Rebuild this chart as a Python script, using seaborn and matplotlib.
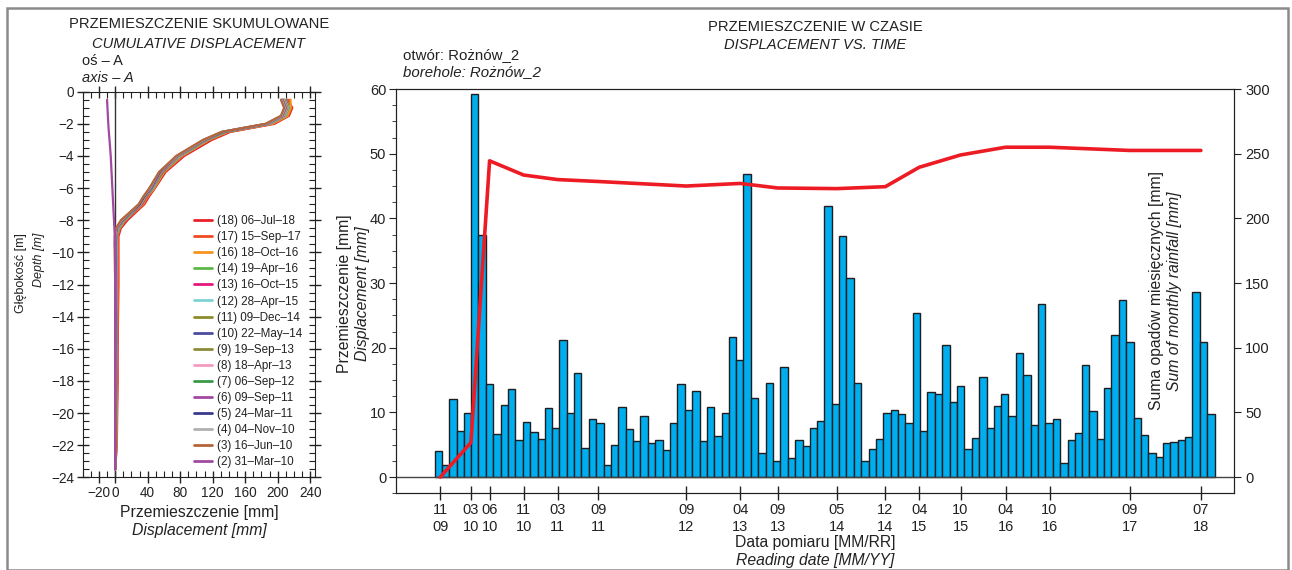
import numpy as np
import pandas as pd
import matplotlib
matplotlib.use("Agg")
import matplotlib.pyplot as plt
import matplotlib.dates as mdates
from matplotlib.patches import Rectangle
from matplotlib.ticker import MultipleLocator, FixedLocator, FuncFormatter
import seaborn as sns

## readings: date and displacement at the top of the borehole [mm]
reading_dates = ["2009-11-24", "2010-03-31", "2010-06-16", "2010-11-04", "2011-03-24",
                 "2011-09-09", "2012-09-06", "2013-04-18", "2013-09-19", "2014-05-22",
                 "2014-12-09", "2015-04-28", "2015-10-16", "2016-04-19", "2016-10-18",
                 "2017-09-15", "2018-07-06"]
displacement = [0.0, 5.35, 48.9, 46.7, 46.0, 45.7, 45.0, 45.4, 44.7, 44.6,
                44.9, 47.9, 49.8, 51.0, 51.0, 50.5, 50.5]

## monthly rainfall [mm], Nov 2009 .. Aug 2018
rain_first_month = "2009-11-01"
rainfall = [20.3, 9.0, 60.3, 36.0, 49.2, 295.9, 187.0, 72.3, 33.7, 56.1,
            68.5, 28.8, 42.7, 35.0, 29.6, 53.8, 38.1, 106.0, 49.4, 80.3,
            22.6, 45.3, 42.0, 9.0, 25.2, 54.5, 37.3, 28.3, 47.4, 26.3,
            28.6, 21.1, 42.2, 71.8, 52.0, 66.9, 27.8, 54.5, 31.7, 49.2,
            108.2, 90.6, 234.1, 61.0, 18.5, 72.9, 12.8, 85.0, 14.4, 28.6,
            24.2, 37.9, 43.3, 209.4, 56.6, 186.4, 153.7, 72.7, 12.8, 22.1,
            29.4, 49.4, 51.8, 48.7, 42.2, 127.2, 36.0, 65.7, 64.1, 102.2,
            58.4, 70.8, 22.1, 30.6, 77.3, 37.9, 54.9, 64.1, 47.6, 96.3,
            78.8, 40.2, 133.7, 42.2, 45.3, 11.3, 28.8, 34.0, 86.5, 51.0,
            29.4, 68.8, 110.2, 136.8, 104.5, 46.0, 32.4, 18.5, 15.9, 26.3,
            27.3, 28.8, 31.4, 142.9, 104.8, 48.7]

## cumulative displacement profiles, axis A
depth = [-0.5, -1.0, -1.5, -2.0, -2.5, -3.0, -4.0, -5.0, -6.0, -6.5, -7.0, -8.0,
         -8.5, -9.0, -9.5, -10.0, -12.0, -14.0, -16.0, -18.0, -20.0, -22.0, -23.5]
p18 = [212, 218, 214, 196, 142, 119, 85, 62, 49, 42, 36, 15, 7, 4, 4, 4, 4, 3.5, 3, 3, 2.5, 2, 0]
p17 = [214, 217, 213, 194, 140, 116, 83, 60, 48, 41, 35, 13, 6, 3, 3, 3, 3, 3, 2.5, 2.5, 2, 1.5, 0]
p16 = [216, 216, 212, 193, 138, 115, 82, 60, 48, 40, 34, 12, 5, 2.5, 2.5, 2.5, 2.5, 2.5, 2, 2, 2, 1.5, 0]
p14 = [211, 214, 210, 191, 137, 114, 81, 59, 47, 39, 33, 12, 5, 2, 2, 2, 2, 2, 2, 1.5, 1.5, 1, 0]
p13 = [210, 213, 209, 190, 136, 113, 80, 58, 46, 39, 33, 11, 4, 2, 1.5, 1.5, 2, 2, 2, 1.5, 1, 1, 0]
p12 = [209, 213, 209, 190, 136, 113, 80, 57, 46, 38, 32, 11, 4, 1.5, 1.5, 1.5, 1.5, 1.5, 1.5, 1, 1, 0.5, 0]
p11 = [208, 212, 208, 189, 135, 112, 79, 57, 45, 38, 32, 10, 3, 1, 1, 1, 1, 1, 1, 1, 0.5, 0.5, 0]
p10 = [207, 211, 207, 188, 134, 111, 78, 56, 45, 37, 31, 10, 3, 1, 0.5, 0.5, 0.5, 1, 1, 0.5, 0.5, 0.5, 0]
p9 = [208, 212, 207, 188, 134, 111, 78, 56, 44, 37, 31, 10, 3, 1, 0.5, 0.5, 0.5, 1, 0.5, 0.5, 0.5, 0.5, 0]
p8 = [207, 211, 207, 188, 133, 110, 78, 56, 44, 37, 31, 9, 3, 0.5, 0.5, 0.5, 0.5, 0.5, 0.5, 0.5, 0, 0, 0]
p7 = [206, 210, 206, 187, 133, 110, 77, 55, 44, 36, 30, 9, 2, 0.5, 0, 0, 0.5, 0.5, 0.5, 0, 0, 0, 0]
p6 = [206, 210, 206, 187, 132, 110, 77, 55, 44, 36, 30, 9, 2, 0, 0, 0, 0.5, 0.5, 0, 0, 0, 0, 0]
p5 = [205, 209, 205, 186, 132, 109, 76, 55, 43, 36, 30, 8, 2, 0, 0, 0, 0, 0.5, 0, 0, 0, 0, 0]
p4 = [205, 209, 205, 186, 131, 109, 76, 54, 43, 35, 29, 8, 1.5, 0, -0.5, -0.5, 0, 0, 0, 0, 0, 0, 0]
p3 = [204, 208, 204, 185, 131, 108, 75, 54, 42, 35, 29, 7, 1, -0.5, -0.5, -0.5, 0, 0, 0, 0, 0, 0, 0]
p2 = [-10, -9.5, -9, -8.5, -7.8, -7, -5.5, -4.5, -3.5, -3, -2.5, -1.5, -1, -0.5, -0.5, 0, 0, 0, 0, 0, 0, 0, 0]

profile_labels = ["(18) 06\u2013Jul\u201318", "(17) 15\u2013Sep\u201317", "(16) 18\u2013Oct\u201316",
                  "(14) 19\u2013Apr\u201316", "(13) 16\u2013Oct\u201315", "(12) 28\u2013Apr\u201315",
                  "(11) 09\u2013Dec\u201314", "(10) 22\u2013May\u201314", "(9) 19\u2013Sep\u201313",
                  "(8) 18\u2013Apr\u201313", "(7) 06\u2013Sep\u201312", "(6) 09\u2013Sep\u201311",
                  "(5) 24\u2013Mar\u201311", "(4) 04\u2013Nov\u201310", "(3) 16\u2013Jun\u201310",
                  "(2) 31\u2013Mar\u201310"]
profiles = [p18, p17, p16, p14, p13, p12, p11, p10, p9, p8, p7, p6, p5, p4, p3, p2]
profile_colors = ["#e8202a", "#f04a23", "#f7941d", "#5cb846", "#e6187e", "#7fd3d3",
                  "#8c8c2a", "#4b4ba0", "#8b8b3a", "#f49ac1", "#3a9a4a", "#a349a4",
                  "#3a3a8c", "#b0b0b0", "#b5653a", "#a04aa0"]

sns.set_style("ticks")
plt.rcParams["font.family"] = ["Liberation Sans Narrow", "Liberation Sans", "DejaVu Sans"]
plt.rcParams["text.color"] = "#222222"
plt.rcParams["axes.edgecolor"] = "#222222"
plt.rcParams["xtick.color"] = "#222222"
plt.rcParams["ytick.color"] = "#222222"

W, H = 1292, 570
fig = plt.figure(figsize=(W / 100, H / 100), dpi=100)


def px_axes(x0, y0, x1, y1):
    return fig.add_axes([x0 / W, 1 - y1 / H, (x1 - x0) / W, (y1 - y0) / H])


def px_text(x, y, s, **kw):
    fig.text(x / W, 1 - y / H, s, **kw)


## left panel: cumulative displacement
axl = px_axes(82.7, 91.7, 315, 477.3)
prof_df = pd.concat([pd.DataFrame({"depth": depth, "disp": vals, "reading": lab})
                     for lab, vals in zip(profile_labels, profiles)], ignore_index=True)
axl.axvline(0, color="#333333", lw=1, zorder=1)
sns.lineplot(data=prof_df, x="disp", y="depth", hue="reading", hue_order=profile_labels,
             palette=profile_colors, sort=False, estimator=None, lw=1.6, ax=axl)
axl.set_xlim(-40, 246)
axl.set_ylim(-24, 0)
axl.xaxis.set_major_locator(FixedLocator([-20, 0, 40, 80, 120, 160, 200, 240]))
axl.xaxis.set_minor_locator(MultipleLocator(10))
axl.yaxis.set_major_locator(MultipleLocator(2))
axl.yaxis.set_minor_locator(MultipleLocator(0.5))
minus = FuncFormatter(lambda v, p: f"{v:g}".replace("-", "\u2212"))
axl.xaxis.set_major_formatter(minus)
axl.yaxis.set_major_formatter(minus)
axl.tick_params(which="both", top=True, right=True, labelsize=9.8, pad=2)
axl.tick_params(which="major", direction="inout", length=8, width=1)
axl.tick_params(which="minor", direction="in", length=4, width=0.8)
axl.set_xlabel("")
axl.set_ylabel("")
leg = axl.legend(loc="upper left", bbox_to_anchor=(0.48, 0.68), frameon=False,
                 fontsize=8.4, handlelength=1.5, handletextpad=0.45, labelspacing=0.35,
                 borderpad=0, borderaxespad=0)
for line in leg.get_lines():
    line.set_linewidth(2)

## right panel: displacement vs time + monthly rainfall
axr = px_axes(396, 89, 1234, 493.3)
axr2 = axr.twinx()

months = pd.date_range(rain_first_month, periods=len(rainfall), freq="MS")
month_ends = months + pd.offsets.MonthBegin(1)
axr2.bar(mdates.date2num(months), rainfall, width=(month_ends - months).days,
         align="edge", color="#00aeef", edgecolor="#1e1e1e", lw=1)

rd = pd.to_datetime(reading_dates)
axr.axhline(0, color="#444444", lw=1)
sns.lineplot(x=mdates.date2num(rd), y=displacement, color="#ed1c24", lw=2.6, ax=axr)
axr.set_zorder(axr2.get_zorder() + 1)
axr.patch.set_visible(False)

axr.set_xlim(mdates.date2num(pd.Timestamp("2009-05-25")), mdates.date2num(pd.Timestamp("2018-11-20")))
axr.set_ylim(-2.5, 60)
axr2.set_ylim(-12.5, 300)
axr.yaxis.set_major_locator(MultipleLocator(10))
axr.yaxis.set_minor_locator(MultipleLocator(2.5))
axr2.yaxis.set_major_locator(MultipleLocator(50))
axr.xaxis.set_major_locator(FixedLocator(mdates.date2num(rd)))
axr.xaxis.set_major_formatter(FuncFormatter(lambda v, p: mdates.num2date(v).strftime("%m\n%y")))
axr.tick_params(axis="x", direction="inout", length=10, width=1, labelsize=10.5, pad=2)
axr.tick_params(axis="y", which="major", direction="out", length=5, labelsize=10.5, pad=2)
axr.tick_params(axis="y", which="minor", direction="out", length=3)
axr2.tick_params(axis="y", direction="out", length=5, labelsize=10.5, pad=3)
axr2.tick_params(axis="x", top=True, bottom=False, direction="in", length=4, labeltop=False)
axr.set_xlabel("")
axr.set_ylabel("")
axr2.set_ylabel("")
for lab in axr.get_xticklabels():
    lab.set_linespacing(1.3)

## texts
tkw = dict(fontsize=10.6, ha="center", va="center")
lkw = dict(fontsize=11.3, ha="center", va="center")
px_text(199, 24, "PRZEMIESZCZENIE SKUMULOWANE", **tkw)
px_text(199, 44, "CUMULATIVE DISPLACEMENT", style="italic", **tkw)
px_text(82, 61, "o\u015b \u2013 A", fontsize=10.5, va="center")
px_text(82, 78, "axis \u2013 A", fontsize=10.5, va="center", style="italic")
px_text(815, 27, "PRZEMIESZCZENIE W CZASIE", **tkw)
px_text(815, 45, "DISPLACEMENT VS. TIME", style="italic", **tkw)
px_text(403, 55, "otw\u00f3r: Ro\u017cn\u00f3w_2", fontsize=10.8, va="center")
px_text(403, 72, "borehole: Ro\u017cn\u00f3w_2", fontsize=10.8, va="center", style="italic")

px_text(21, 233, "G\u0142\u0119boko\u015b\u0107 [m]", fontsize=9, rotation=90, ha="center", va="top")
px_text(39, 233, "Depth [m]", fontsize=9, rotation=90, ha="center", va="top", style="italic")
px_text(199, 512, "Przemieszczenie [mm]", **lkw)
px_text(199, 530, "Displacement [mm]", style="italic", **lkw)

px_text(344, 294, "Przemieszczenie [mm]", rotation=90, **lkw)
px_text(362, 294, "Displacement [mm]", rotation=90, style="italic", **lkw)
px_text(1157, 291, "Suma opad\u00f3w miesi\u0119cznych [mm]", rotation=90, **lkw)
px_text(1175, 291, "Sum of monthly rainfall [mm]", rotation=90, style="italic", **lkw)
px_text(815, 542, "Data pomiaru [MM/RR]", **lkw)
px_text(815, 560, "Reading date [MM/YY]", style="italic", **lkw)

fig.patches.append(Rectangle((7 / W, 0), (1288 - 7) / W, 1 - 8 / H, transform=fig.transFigure,
                             fill=False, edgecolor="#8a8a8a", lw=1.8))

fig.savefig("out.png", dpi=100)
